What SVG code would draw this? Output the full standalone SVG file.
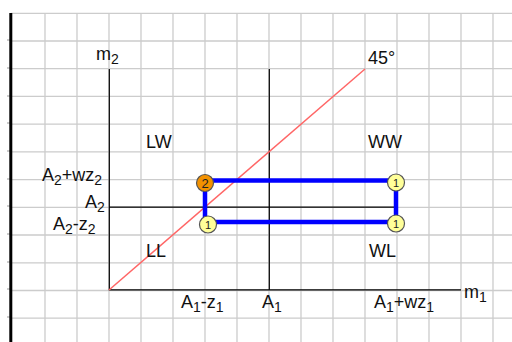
<svg xmlns="http://www.w3.org/2000/svg" width="512" height="342" viewBox="0 0 512 342">
<style>
.grid{stroke:#cccccc;stroke-width:1.3;fill:none}
.axis{stroke:#000;stroke-width:1.2;fill:none}
.t{font-family:"Liberation Sans",Arial,sans-serif;font-size:18px;fill:#111}
.s{font-size:14px}
.blue{stroke:#0000ff;stroke-width:4.5;fill:none;stroke-linecap:square}
.n2{fill:#f39200;stroke:#555;stroke-width:1.2}
.n1{fill:#ffff99;stroke:#555;stroke-width:1.2}
.nt{font-family:"Liberation Sans",Arial,sans-serif;fill:#222;text-anchor:middle}
</style>
<rect width="512" height="342" fill="#fff"/>
<g id="grid">
<path class="grid" d="M11 13.3H512M11 41H512M11 68.7H512M11 96.4H512M11 124.2H512M11 151.9H512M11 179.6H512M11 207.3H512M11 235H512M11 262.8H512M11 290.5H512M11 318.2H512"/>
<path class="grid" d="M45 13V342M77 13V342M109 13V342M141 13V342M173 13V342M205 13V342M237 13V342M269 13V342M301 13V342M333 13V342M365 13V342M397 13V342M429 13V342M461 13V342M493 13V342"/>
<path stroke="#999" stroke-width="1" d="M7 40H10M7 68H10M7 96H10M7 123H10M7 151H10M7 179H10M7 206H10M7 234H10M7 262H10M7 289H10M7 317H10"/>
<line x1="10.8" y1="13" x2="10.8" y2="342" stroke="#000" stroke-width="3"/>
</g>
<g id="axes">
<path class="axis" d="M109.3 69V289.8H461"/>
<path class="axis" d="M269.3 69V289.8"/>
<path class="axis" d="M109.3 207.2H395"/>
<line x1="109" y1="290" x2="365" y2="69" stroke="#ff6666" stroke-width="1.5"/>
</g>
<g id="labels" class="t">
<text x="96" y="60">m<tspan class="s" dy="4">2</tspan></text>
<text x="368" y="64">45°</text>
<text x="146" y="148">LW</text>
<text x="368" y="148">WW</text>
<text x="146" y="257">LL</text>
<text x="369" y="257">WL</text>
<text x="42" y="181">A<tspan class="s" dy="4">2</tspan><tspan dy="-4">+wz</tspan><tspan class="s" dy="4">2</tspan></text>
<text x="85" y="208">A<tspan class="s" dy="4">2</tspan></text>
<text x="53" y="230">A<tspan class="s" dy="4">2</tspan><tspan dy="-4">-z</tspan><tspan class="s" dy="4">2</tspan></text>
<text x="181" y="308">A<tspan class="s" dy="4">1</tspan><tspan dy="-4">-z</tspan><tspan class="s" dy="4">1</tspan></text>
<text x="262" y="308">A<tspan class="s" dy="4">1</tspan></text>
<text x="374" y="308">A<tspan class="s" dy="4">1</tspan><tspan dy="-4">+wz</tspan><tspan class="s" dy="4">1</tspan></text>
<text x="464" y="298">m<tspan class="s" dy="4">1</tspan></text>
</g>
<g id="connectors">
<path class="blue" d="M205 180.5H396V222H208M205 182V222"/>
</g>
<g id="node-2"><circle class="n2" cx="205" cy="183" r="8.5"/><text class="nt" x="205" y="187.8" font-size="13">2</text></g>
<g id="node-1a"><circle class="n1" cx="396" cy="182.5" r="8.5"/><text class="nt" x="396" y="186.5" font-size="11">1</text></g>
<g id="node-1b"><circle class="n1" cx="396" cy="223.5" r="8.5"/><text class="nt" x="396" y="227.5" font-size="11">1</text></g>
<g id="node-1c"><circle class="n1" cx="208" cy="224.5" r="8.5"/><text class="nt" x="208" y="228.5" font-size="11">1</text></g>
</svg>
